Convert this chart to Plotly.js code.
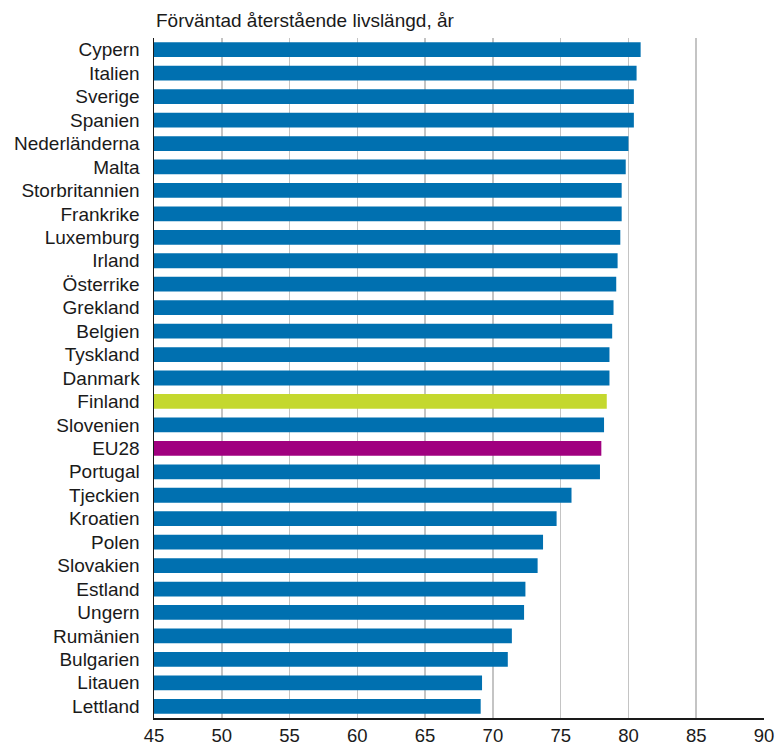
<!DOCTYPE html>
<html>
<head>
<meta charset="utf-8">
<script src="https://cdn.plot.ly/plotly-3.0.1.min.js"></script>
<style>
html, body { margin: 0; padding: 0; background: #fff; }
#chart { width: 780px; height: 751px; }
</style>
</head>
<body>
<div id="chart"></div>
<script>
const countries = ["Cypern","Italien","Sverige","Spanien","Nederländerna","Malta","Storbritannien","Frankrike","Luxemburg","Irland","Österrike","Grekland","Belgien","Tyskland","Danmark","Finland","Slovenien","EU28","Portugal","Tjeckien","Kroatien","Polen","Slovakien","Estland","Ungern","Rumänien","Bulgarien","Litauen","Lettland"];
const lifeExpectancy = [80.9,80.6,80.4,80.4,80.0,79.8,79.5,79.5,79.4,79.2,79.1,78.9,78.8,78.6,78.6,78.4,78.2,78.0,77.9,75.8,74.7,73.7,73.3,72.4,72.3,71.4,71.1,69.2,69.1];
const xTicks = [45,50,55,60,65,70,75,80,85,90];
const titleText = "Förväntad återstående livslängd, år";

const colorDefault = "#0070b0";
const colorFinland = "#c4d82e";
const colorEU = "#a0007f";
const barColors = countries.map(c => c === "Finland" ? colorFinland : (c === "EU28" ? colorEU : colorDefault));

const trace = {
  type: "bar",
  orientation: "h",
  y: countries,
  x: lifeExpectancy,
  base: 0,
  width: 0.63,
  marker: { color: barColors, line: { width: 0 } },
  hoverinfo: "x+y"
};

const fam = "Liberation Sans, Arial, sans-serif";

const layout = {
  width: 780,
  height: 751,
  margin: { l: 154, r: 16, t: 38, b: 33 },
  paper_bgcolor: "#fff",
  plot_bgcolor: "#fff",
  showlegend: false,
  font: { family: fam, size: 18, color: "#1a1a1a" },
  xaxis: {
    range: [45, 90],
    tickvals: xTicks,
    ticktext: xTicks.map(String),
    showgrid: true,
    gridcolor: "#c4c4c4",
    gridwidth: 1.5,
    zeroline: false,
    showline: true,
    linecolor: "#1a1a1a",
    linewidth: 1.5,
    ticks: "",
    tickfont: { family: fam, size: 18.5, color: "#1a1a1a" },
    fixedrange: true
  },
  yaxis: {
    type: "category",
    autorange: "reversed",
    showgrid: false,
    zeroline: false,
    showline: true,
    linecolor: "#1a1a1a",
    linewidth: 1.5,
    ticks: "",
    ticklabelstandoff: 9,
    tickfont: { family: fam, size: 19, color: "#1a1a1a" },
    fixedrange: true
  },
  annotations: [{
    text: titleText,
    xref: "paper", yref: "paper",
    x: 0, y: 1,
    xanchor: "left", yanchor: "bottom",
    xshift: 0, yshift: 5,
    showarrow: false,
    font: { family: fam, size: 19, color: "#1a1a1a" }
  }]
};

Plotly.newPlot("chart", [trace], layout, { displayModeBar: false, staticPlot: true });
</script>
</body>
</html>
